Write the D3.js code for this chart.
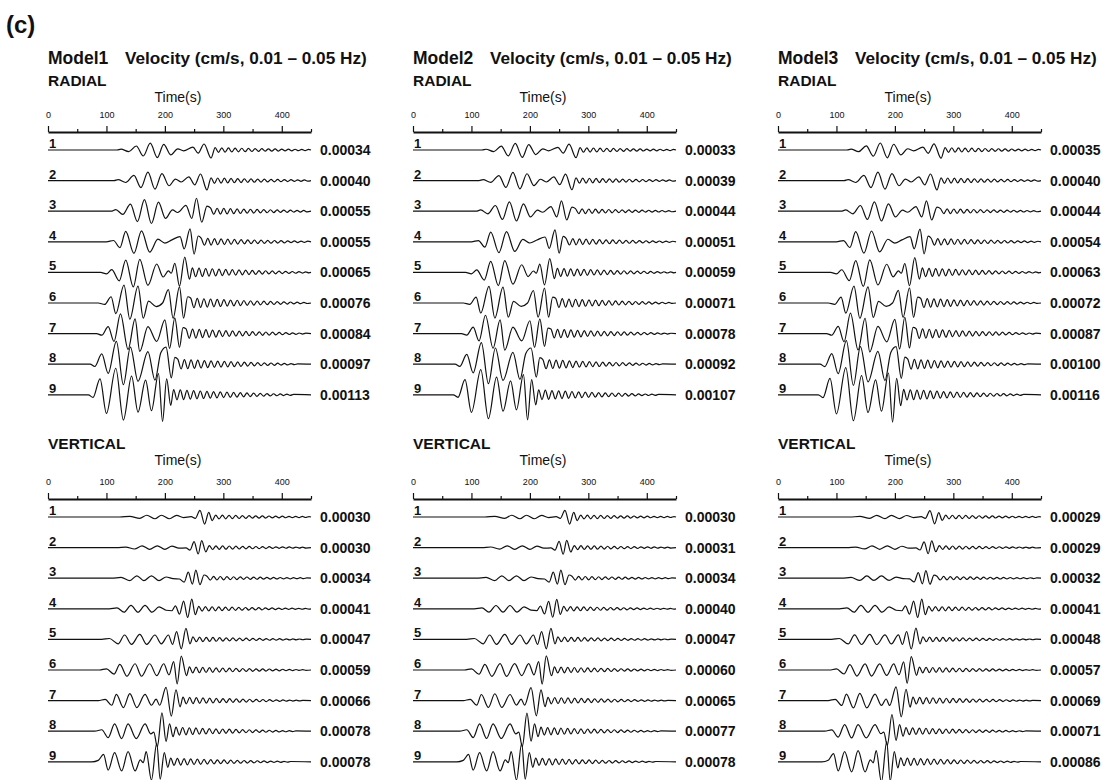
<!DOCTYPE html>
<html><head><meta charset="utf-8">
<script src="https://cdn.jsdelivr.net/npm/d3@7"></script>
<style>body{margin:0;background:#fff} svg{display:block} text{font-family:"Liberation Sans",Arial,Helvetica,sans-serif;fill:#111}</style>
</head><body><svg id="c" width="1114" height="780"></svg>
<script>
// ---------- data ----------
const models = ["Model1", "Model2", "Model3"];
const subtitle = "Velocity (cm/s, 0.01 \u2013 0.05 Hz)";
const components = ["RADIAL", "VERTICAL"];
const stations = ["1","2","3","4","5","6","7","8","9"];
const tickLabels = [0, 100, 200, 300, 400];
const minorTicks = [50, 150, 250, 350, 450];
const timeDomain = [0, 450];

// peak amplitudes (cm/s), per model, per station
const peakRadial = [
  [0.00034, 0.00040, 0.00055, 0.00055, 0.00065, 0.00076, 0.00084, 0.00097, 0.00113],
  [0.00033, 0.00039, 0.00044, 0.00051, 0.00059, 0.00071, 0.00078, 0.00092, 0.00107],
  [0.00035, 0.00040, 0.00044, 0.00054, 0.00063, 0.00072, 0.00087, 0.00100, 0.00116]
];
const peakVertical = [
  [0.00030, 0.00030, 0.00034, 0.00041, 0.00047, 0.00059, 0.00066, 0.00078, 0.00078],
  [0.00030, 0.00031, 0.00034, 0.00040, 0.00047, 0.00060, 0.00065, 0.00077, 0.00078],
  [0.00029, 0.00029, 0.00032, 0.00041, 0.00048, 0.00057, 0.00069, 0.00071, 0.00086]
];

// waveform extrema: [time (s), amplitude (% of peak)]
const radialWaves = [
  [[118,0],[125,10],[138,-20],[151,50],[163,-75],[175,85],[187,-95],[198,70],[210,-60],[222,15],[232,-10],[248,35],[257,-40],[267,75],[279,-100]],
  [[113,0],[120,10],[133,-20],[147,55],[159,-75],[171,90],[183,-90],[195,75],[207,-55],[218,15],[228,-15],[241,40],[251,-45],[261,70],[272,-100]],
  [[108,0],[116,12],[128,-25],[141,55],[153,-80],[165,90],[177,-95],[189,70],[201,-55],[213,10],[222,-10],[236,45],[246,-55],[254,100],[263,-85],[272,40]],
  [[100,0],[112,10],[123,-45],[133,80],[147,-90],[160,85],[174,-80],[188,20],[200,-10],[212,15],[226,40],[233,-55],[243,100],[250,-95],[257,45]],
  [[90,0],[100,-10],[109,18],[122,-55],[133,80],[146,-95],[157,85],[171,-85],[186,55],[197,-30],[206,10],[211,-5],[217,60],[225,-90],[234,100],[242,-45]],
  [[86,0],[97,-8],[108,35],[116,-60],[130,100],[140,-90],[154,95],[163,-85],[172,10],[185,-20],[196,0],[206,75],[214,-85],[225,90],[232,-85],[239,35]],
  [[83,0],[92,-8],[103,35],[113,-40],[124,100],[137,-80],[149,75],[157,-90],[171,35],[186,-40],[200,70],[208,-75],[217,80],[225,-70],[231,30]],
  [[72,0],[80,-10],[92,45],[103,-40],[117,100],[129,-90],[141,75],[154,-75],[171,55],[183,-70],[193,50],[202,75],[211,-60],[217,30]],
  [[69,0],[77,-10],[89,60],[100,-70],[116,100],[129,-95],[143,70],[154,-65],[167,55],[177,-60],[189,80],[196,-100],[203,60],[210,-40]]
];
const verticalWaves = [
  [[123,0],[140,8],[157,-20],[169,25],[183,-25],[194,25],[208,-25],[220,22],[232,-8],[245,5],[252,-20],[260,95],[268,-100],[275,65],[281,-50]],
  [[118,0],[133,8],[148,-20],[161,25],[174,-25],[187,25],[200,-25],[212,20],[224,-8],[236,-5],[243,-35],[250,85],[257,-90],[263,100],[270,-60]],
  [[109,0],[125,10],[140,-30],[152,30],[164,-30],[177,30],[190,-30],[202,15],[214,-5],[225,-10],[233,-50],[240,75],[247,-75],[253,100],[260,-80],[267,40]],
  [[105,0],[118,10],[130,-35],[142,35],[154,-35],[166,35],[178,-35],[190,20],[202,-15],[212,-20],[218,30],[225,-55],[232,80],[239,-90],[246,100],[252,-60]],
  [[92,0],[105,8],[120,-40],[131,40],[143,-45],[157,45],[169,-45],[183,40],[194,-40],[206,40],[213,-45],[220,70],[228,-85],[236,100],[243,-40]],
  [[88,0],[100,8],[113,-30],[123,40],[135,-45],[149,45],[160,-45],[174,45],[186,-40],[198,45],[207,-35],[215,60],[221,-100],[228,100],[237,-40]],
  [[86,0],[98,8],[109,-30],[117,40],[129,-45],[140,45],[152,-45],[166,40],[177,-30],[185,10],[191,-30],[202,85],[211,-100],[219,70],[226,-40]],
  [[80,0],[92,8],[103,-35],[114,40],[126,-40],[137,40],[151,-40],[166,40],[176,-15],[181,-5],[187,-85],[195,100],[202,-55],[208,40],[214,-30]],
  [[75,0],[86,8],[95,40],[103,-45],[114,50],[126,-50],[137,55],[149,-50],[158,10],[163,-5],[168,55],[177,-100],[186,100],[192,-95],[199,50],[205,-30]]
];

// short-period coda: start time (s), level (% of peak), successive half-cycle amplitudes
const codaStartRadial = [286, 279, 278, 262, 247, 244, 236, 222, 215];
const codaLevelRadial = [0.30, 0.30, 0.25, 0.28, 0.30, 0.28, 0.25, 0.22, 0.20];
const codaStartVertical = [287, 276, 272, 258, 248, 242, 231, 219, 210];
const codaLevelVertical = [0.28, 0.28, 0.25, 0.25, 0.22, 0.22, 0.22, 0.22, 0.20];
const codaHalfPeriod = 5.7;
const codaShape = [100,-95,92,-90,85,-82,80,-76,72,-70,66,-62,60,-58,55,-52,50,-48,45,-43,40,-38,36,-34,32,-30,28,-26,24,-22,20,-18,16,-14,12,-10,8];

// ---------- layout ----------
const svg = d3.select("#c");
const panelX = [48, 413, 778];
const axisLen = 263;
const axisY = [132, 499];
const compLabelY = [85.5, 449];
const timeLabelY = [102, 465];
const firstTrace = 18, traceGap = 30.6;

svg.append("text").attr("x", 6).attr("y", 33).attr("font-size", 24).attr("font-weight", "bold").text("(c)");

const amp = d3.scaleLinear().domain([0, 0.001]).range([0, 23.5]);

models.forEach((mName, m) => {
  const x0 = panelX[m];
  const x = d3.scaleLinear().domain(timeDomain).range([x0, x0 + axisLen]);
  svg.append("text").attr("x", x0).attr("y", 64).attr("font-size", 17.5).attr("font-weight", "bold").text(mName);
  svg.append("text").attr("x", x0 + 77).attr("y", 64).attr("font-size", 17.2).attr("font-weight", "bold").text(subtitle);

  components.forEach((cName, c) => {
    const ay = axisY[c];
    const g = svg.append("g");
    g.append("text").attr("x", x0).attr("y", compLabelY[c]).attr("font-size", 15.5).attr("font-weight", "bold").text(cName);
    g.append("text").attr("x", x0 + 130).attr("y", timeLabelY[c]).attr("font-size", 14).attr("text-anchor", "middle").text("Time(s)");

    const ax = g.append("g").attr("transform", `translate(0,${ay})`)
      .call(d3.axisTop(x).tickValues(tickLabels).tickSize(6).tickSizeOuter(0).tickPadding(8).tickFormat(d3.format("d")));
    ax.select(".domain").attr("stroke-width", 2).attr("stroke", "#111");
    ax.selectAll(".tick line").attr("stroke-width", 1.2).attr("stroke", "#111");
    ax.selectAll(".tick text").attr("font-size", 9).attr("font-family", "Liberation Sans, Arial, sans-serif").attr("fill", "#111");
    const mx = g.append("g").attr("transform", `translate(0,${ay})`)
      .call(d3.axisTop(x).tickValues(minorTicks).tickSize(3).tickSizeOuter(0).tickFormat(""));
    mx.select(".domain").remove();
    mx.selectAll(".tick line").attr("stroke-width", 1.2).attr("stroke", "#111");

    const waves = c === 0 ? radialWaves : verticalWaves;
    const peaks = c === 0 ? peakRadial[m] : peakVertical[m];
    const cStart = c === 0 ? codaStartRadial : codaStartVertical;
    const cLevel = c === 0 ? codaLevelRadial : codaLevelVertical;

    stations.forEach((s, i) => {
      const ty = ay + firstTrace + i * traceGap;
      const pk = amp(peaks[i]);
      const pts = [[timeDomain[0], 0]].concat(waves[i]);
      codaShape.forEach((a, k) => {
        const t = cStart[i] + k * codaHalfPeriod;
        if (t < timeDomain[1] - 3) pts.push([t, a * cLevel[i]]);
      });
      pts.push([timeDomain[1], 0]);
      const line = d3.line()
        .x(d => x(d[0]))
        .y(d => ty - d[1] / 100 * pk)
        .curve(d3.curveMonotoneX);
      g.append("path").attr("d", line(pts)).attr("fill", "none").attr("stroke", "#111").attr("stroke-width", 1.2);
      g.append("text").attr("x", x0 + 1).attr("y", ty - 2).attr("font-size", 13).attr("font-weight", "bold").text(s);
      g.append("text").attr("x", x0 + 272).attr("y", ty + 5).attr("font-size", 14).attr("font-weight", "bold").text(d3.format(".5f")(peaks[i]));
    });
  });
});
</script></body></html>
